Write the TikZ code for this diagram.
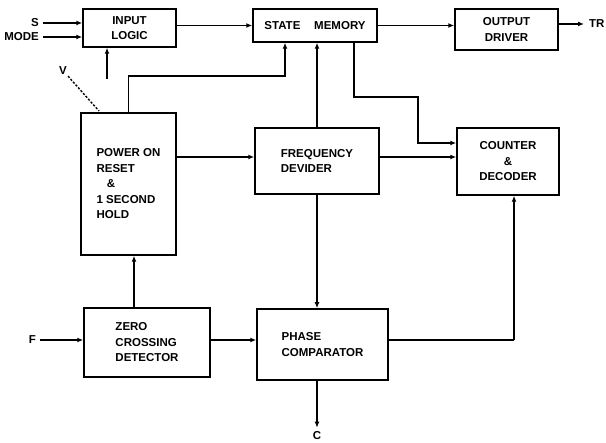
\documentclass[tikz,border=0pt]{standalone}
\usepackage{fontspec}
\setmainfont{Liberation Sans}
\usetikzlibrary{arrows.meta,positioning}

\begin{document}
\begin{tikzpicture}[
    x=1pt, y=-1pt,
    every node/.style={font=\bfseries\fontsize{11.5}{15.5}\selectfont},
    blockbox/.style={draw, line width=1.5pt, inner sep=2pt, align=center},
    lefttext/.style={blockbox, align=left},
    arrow/.style={-{Latex[length=6pt,width=5pt]}, line width=1.4pt},
    wire/.style={line width=1.4pt},
    pinlabel/.style={inner sep=1pt}
]
  \useasboundingbox (0,0) rectangle (606,443);

  % top row
  \node[blockbox, minimum width=93pt, minimum height=38pt] (inlogic) at (129.5,28) {INPUT\\LOGIC};
  \node[blockbox, minimum width=124pt, minimum height=33pt] (statemem) at (315,25.5) {STATE\hspace{1.2em}MEMORY};
  \node[blockbox, minimum width=103pt, minimum height=41pt] (outdrv) at (506.5,29.5) {OUTPUT\\DRIVER};

  % middle row
  \node[lefttext, minimum width=95pt, minimum height=142pt] (por) at (128.5,184) {POWER ON\\RESET\\\hspace{0.9em}\&\\1 SECOND\\HOLD};
  \node[lefttext, minimum width=124pt, minimum height=66pt] (freqdiv) at (317,161) {FREQUENCY\\DEVIDER};
  \node[blockbox, minimum width=102pt, minimum height=67pt] (counter) at (508,161.5) {COUNTER\\\&\\DECODER};

  % bottom row
  \node[lefttext, minimum width=126pt, minimum height=69pt] (zcd) at (147,342.5) {ZERO\\CROSSING\\DETECTOR};
  \node[lefttext, minimum width=131pt, minimum height=71pt] (phcomp) at (322.5,344.5) {PHASE\\COMPARATOR};

  % pin labels
  \node[pinlabel, anchor=east] (lblS) at (40,23) {S};
  \node[pinlabel, anchor=east] (lblMode) at (40,37) {MODE};
  \node[pinlabel, anchor=west] (lblTR) at (588,24) {TR};
  \node[pinlabel, anchor=east] (lblF) at (37,340) {F};
  \node[pinlabel] (lblC) at (317,436) {C};
  \node[pinlabel] (lblV) at (63,71) {V};

  \coordinate (ilfoot) at (107,79);
  \coordinate (porup) at (285,76);
  \coordinate (smtap) at (354,97);
  \coordinate (smdrop) at (418,143);
  \coordinate (zcdup) at (134,308);
  \coordinate (pcturn) at (514,340);
  \coordinate (porcorner) at (99,111);

  % inputs and outputs
  \draw[arrow] ([xshift=3pt]lblS.east) -- (lblS.east -| inlogic.west);
  \draw[arrow] ([xshift=3pt]lblMode.east) -- (lblMode.east -| inlogic.west);
  \draw[arrow] (inlogic.east |- statemem.west) -- (statemem.west);
  \draw[arrow] (statemem.east) -- (statemem.east -| outdrv.west);
  \draw[arrow] (outdrv.east |- lblTR.west) -- ([xshift=-4pt]lblTR.west);
  \draw[arrow] (ilfoot) -- (ilfoot |- inlogic.south);
  \draw[wire, dashed, dash pattern=on 2.2pt off 1.6pt] (lblV.south east) -- (porcorner);

  % feedback into state memory
  \draw[arrow] (por.north) |- (porup) -- (porup |- statemem.south);
  \draw[arrow] (freqdiv.north) -- (freqdiv.north |- statemem.south);
  \draw[arrow] (smtap |- statemem.south) -- (smtap) -| (smdrop) -- (smdrop -| counter.west);

  % middle connections
  \draw[arrow] (por.east |- 0,157) -- (freqdiv.west |- 0,157);
  \draw[arrow] (freqdiv.east |- 0,157) -- (counter.west |- 0,157);

  % bottom connections
  \draw[arrow] ([xshift=3pt]lblF.east) -- (lblF.east -| zcd.west);
  \draw[arrow] (zcd.east |- lblF.east) -- (phcomp.west |- lblF.east);
  \draw[arrow] (zcdup) -- (zcdup |- por.south);
  \draw[arrow] (freqdiv.south) -- (freqdiv.south |- phcomp.north);
  \draw[wire] (phcomp.east |- pcturn) -- (pcturn);
  \draw[arrow] (pcturn) -- (pcturn |- counter.south);
  \draw[arrow] (phcomp.south -| lblC) -- ([yshift=3pt]lblC.north);
\end{tikzpicture}
\end{document}
